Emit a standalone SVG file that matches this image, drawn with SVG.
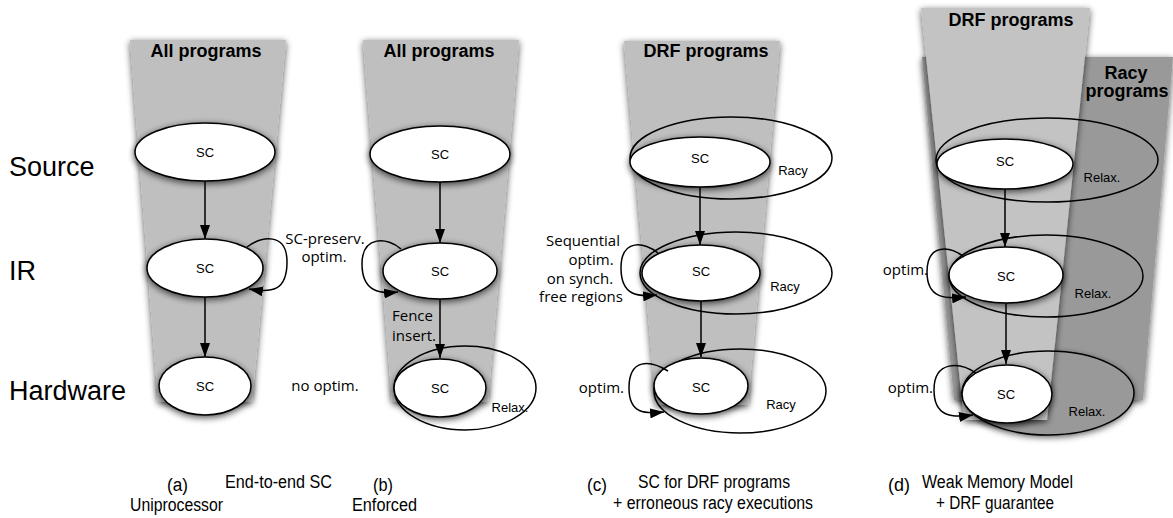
<svg xmlns="http://www.w3.org/2000/svg" width="1173" height="518" viewBox="0 0 1173 518">
<defs>
<filter id="sh" x="-30%" y="-30%" width="160%" height="160%">
<feGaussianBlur in="SourceAlpha" stdDeviation="3.5"/>
<feOffset dx="0" dy="2" result="o"/>
<feComponentTransfer in="o" result="s"><feFuncA type="linear" slope="0.7"/></feComponentTransfer>
<feMerge><feMergeNode in="s"/><feMergeNode in="SourceGraphic"/></feMerge>
</filter>
<marker id="ah" markerWidth="14" markerHeight="10" refX="14" refY="5" orient="auto" markerUnits="userSpaceOnUse">
<path d="M0,0 L14,5 L0,10 z" fill="#000"/>
</marker>
<style>
.fun{fill:#bfbfbf;filter:url(#sh)}
.fun2{fill:#c3c3c3;filter:url(#sh)}
.racy{fill:#999999;filter:url(#sh)}
.node{fill:#fff;stroke:#000;stroke-width:1.5;filter:url(#sh)}
.outer{fill:none;stroke:#000;stroke-width:1.5}
.edge{fill:none;stroke:#000;stroke-width:1.5;marker-end:url(#ah)}
.lbl{font-family:"Liberation Sans",Arial,sans-serif;font-size:27px;fill:#000}
.ttl{font-family:"Liberation Sans",Arial,sans-serif;font-size:18px;font-weight:bold;fill:#000;text-anchor:middle}
.sc{font-family:"Liberation Sans",Arial,sans-serif;font-size:13px;fill:#000;text-anchor:middle}
.sm{font-family:"Liberation Sans",Arial,sans-serif;font-size:13px;fill:#000;text-anchor:middle}
.ann{font-family:"Open Sans",sans-serif;font-size:15px;fill:#000}
.mid{text-anchor:middle}
.end{text-anchor:end}
.cap{font-family:"Liberation Sans",Arial,sans-serif;font-size:18px;fill:#000}
</style>
</defs>
<rect width="1173" height="518" fill="#fff"/>

<g id="row-labels">
<text class="lbl" x="9" y="176">Source</text>
<text class="lbl" x="9" y="280">IR</text>
<text class="lbl" x="9" y="400">Hardware</text>
</g>

<g id="funnel-a"><polygon class="fun" points="130,40 286,40 252,402 158,402"/><text class="ttl" x="206" y="57">All programs</text></g>
<g id="funnel-b"><polygon class="fun" points="363,40 519,40 488,402 392,402"/><text class="ttl" x="439" y="57">All programs</text></g>
<g id="funnel-c"><polygon class="fun" points="624,41 780,41 748,405 656,405"/><text class="ttl" x="706" y="57">DRF programs</text></g>
<g id="racy-d"><polygon class="racy" points="922,57 1173,57 1143,400 954,400"/><text class="ttl" x="1126" y="79">Racy</text><text class="ttl" x="1127" y="97">programs</text></g>
<g id="relax-d-hw-fill"><ellipse cx="1048" cy="393" rx="86" ry="42" fill="#999999" filter="url(#sh)"/></g>
<g id="funnel-d"><polygon class="fun2" points="921,8 1090,8 1047,420 964,420"/><text class="ttl" x="1011" y="26">DRF programs</text></g>

<g id="relax-b"><ellipse class="outer" cx="465" cy="388" rx="71" ry="42"/><text class="sm" x="510" y="412">Relax.</text></g>
<g id="racy-c-src"><ellipse class="outer" cx="731" cy="158" rx="101" ry="41"/><text class="sm" x="793" y="175">Racy</text></g>
<g id="racy-c-ir"><ellipse class="outer" cx="736" cy="273" rx="96" ry="41"/><text class="sm" x="785" y="291">Racy</text></g>
<g id="racy-c-hw"><ellipse class="outer" cx="740" cy="391" rx="86" ry="42"/><text class="sm" x="781" y="409">Racy</text></g>
<g id="relax-d-src"><ellipse class="outer" cx="1047" cy="160" rx="111" ry="42"/><text class="sm" x="1102" y="182">Relax.</text></g>
<g id="relax-d-ir"><ellipse class="outer" cx="1046" cy="276" rx="97" ry="41"/><text class="sm" x="1093" y="298">Relax.</text></g>
<g id="relax-d-hw"><ellipse class="outer" cx="1048" cy="393" rx="86" ry="42"/><text class="sm" x="1087" y="416">Relax.</text></g>

<g id="a-src"><ellipse class="node" cx="205" cy="152" rx="70" ry="29"/><text class="sc" x="205" y="157">SC</text></g>
<g id="a-ir"><ellipse class="node" cx="205" cy="268" rx="58" ry="29"/><text class="sc" x="205" y="273">SC</text></g>
<g id="a-hw"><ellipse class="node" cx="205" cy="386" rx="46" ry="29"/><text class="sc" x="205" y="391">SC</text></g>

<g id="b-src"><ellipse class="node" cx="440" cy="154" rx="70" ry="28"/><text class="sc" x="440" y="159">SC</text></g>
<g id="b-ir"><ellipse class="node" cx="440" cy="271" rx="57" ry="28"/><text class="sc" x="440" y="276">SC</text></g>
<g id="b-hw"><ellipse class="node" cx="440" cy="388" rx="46" ry="29"/><text class="sc" x="440" y="393">SC</text></g>

<g id="c-src"><ellipse class="node" cx="700" cy="162" rx="70" ry="25"/><text class="sc" x="700" y="163">SC</text></g>
<g id="c-ir"><ellipse class="node" cx="701" cy="273" rx="59" ry="28"/><text class="sc" x="701" y="276">SC</text></g>
<g id="c-hw"><ellipse class="node" cx="701" cy="386" rx="47" ry="28"/><text class="sc" x="701" y="392">SC</text></g>

<g id="d-src"><ellipse class="node" cx="1005" cy="164" rx="68" ry="25"/><text class="sc" x="1005" y="166">SC</text></g>
<g id="d-ir"><ellipse class="node" cx="1006" cy="275" rx="57" ry="28"/><text class="sc" x="1006" y="281">SC</text></g>
<g id="d-hw"><ellipse class="node" cx="1007" cy="394" rx="45" ry="29"/><text class="sc" x="1006" y="399">SC</text></g>

<g id="connectors">
<path class="edge" d="M205,181 L205,239"/>
<path class="edge" d="M205,297 L205,357"/>
<path class="edge" d="M247,247 C262,236 287,232 287,262 C287,291 272,293 249,289"/>
<path class="edge" d="M440,182 L440,243"/>
<path class="edge" d="M440,299 L440,358"/>
<path class="edge" d="M401,249 C388,237 362,235 362,264 C362,292 380,294 398,292"/>
<path class="edge" d="M700,187 L700,245"/>
<path class="edge" d="M701,301 L701,357"/>
<path class="edge" d="M658,253 C645,242 621,238 621,268 C621,296 638,297 657,295"/>
<path class="edge" d="M668,371 C650,360 629,358 629,388 C629,414 645,414 664,412"/>
<path class="edge" d="M1005,189 L1005,247"/>
<path class="edge" d="M1006,303 L1006,364"/>
<path class="edge" d="M964,257 C950,246 927,243 927,272 C927,299 946,299 966,297"/>
<path class="edge" d="M976,373 C960,362 934,360 934,390 C934,417 952,418 973,415"/>
</g>

<g id="annotations">
<text class="ann mid" x="325" y="244">SC-preserv.</text>
<text class="ann mid" x="324" y="262">optim.</text>
<text class="ann" x="392" y="321">Fence</text>
<text class="ann" x="392" y="341">insert.</text>
<text class="ann mid" x="325" y="391">no optim.</text>
<text class="ann mid" x="583" y="246">Sequential</text>
<text class="ann mid" x="591" y="265">optim.</text>
<text class="ann mid" x="580" y="284">on synch.</text>
<text class="ann mid" x="581" y="302">free regions</text>
<text class="ann end" x="624" y="393">optim.</text>
<text class="ann end" x="928" y="275">optim.</text>
<text class="ann end" x="933" y="393">optim.</text>
</g>

<g id="captions">
<text class="cap" x="167" y="491" textLength="21" lengthAdjust="spacingAndGlyphs">(a)</text>
<text class="cap" x="130" y="511" textLength="93" lengthAdjust="spacingAndGlyphs">Uniprocessor</text>
<text class="cap" x="225" y="488" textLength="107" lengthAdjust="spacingAndGlyphs">End-to-end SC</text>
<text class="cap" x="373" y="491" textLength="20" lengthAdjust="spacingAndGlyphs">(b)</text>
<text class="cap" x="352" y="511" textLength="65" lengthAdjust="spacingAndGlyphs">Enforced</text>
<text class="cap" x="587" y="491" textLength="20" lengthAdjust="spacingAndGlyphs">(c)</text>
<text class="cap" x="638" y="488" textLength="152" lengthAdjust="spacingAndGlyphs">SC for DRF programs</text>
<text class="cap" x="613" y="509" textLength="200" lengthAdjust="spacingAndGlyphs">+ erroneous racy executions</text>
<text class="cap" x="888" y="491" textLength="22" lengthAdjust="spacingAndGlyphs">(d)</text>
<text class="cap" x="922" y="488" textLength="151" lengthAdjust="spacingAndGlyphs">Weak Memory Model</text>
<text class="cap" x="936" y="509" textLength="118" lengthAdjust="spacingAndGlyphs">+ DRF guarantee</text>
</g>
</svg>
